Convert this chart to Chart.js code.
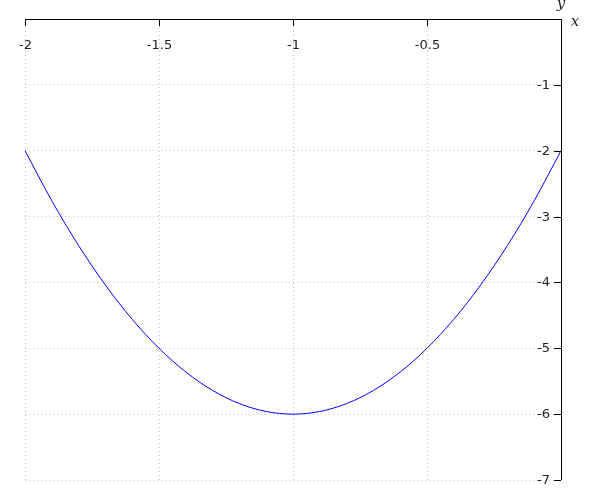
<!DOCTYPE html>
<html>
<head>
<meta charset="utf-8">
<script src="https://cdn.jsdelivr.net/npm/chart.js@4"></script>
<style>
  html, body { margin: 0; padding: 0; background: #fff; }
  #wrap { width: 600px; height: 500px; }
</style>
</head>
<body>
<div id="wrap"><canvas id="grafico"></canvas></div>
<script>
const xValores = [-2, -1.9, -1.8, -1.7, -1.6, -1.5, -1.4, -1.3, -1.2, -1.1, -1,
                  -0.9, -0.8, -0.7, -0.6, -0.5, -0.4, -0.3, -0.2, -0.1, 0];
const yValores = [-2, -2.76, -3.44, -4.04, -4.56, -5, -5.36, -5.64, -5.84, -5.96, -6,
                  -5.96, -5.84, -5.64, -5.36, -5, -4.56, -4.04, -3.44, -2.76, -2];
const xTicks = [-2, -1.5, -1, -0.5];
const yTicks = [-1, -2, -3, -4, -5, -6, -7];

const pontos = xValores.map((x, i) => ({ x: x, y: yValores[i] }));

// eixos no topo e a direita, com marcas para dentro
const eixos = {
    id: "eixos",
    afterDraw(chart) {
        const ctx = chart.ctx;
        const sx = chart.scales.x;
        const sy = chart.scales.y;
        const topo = sy.getPixelForValue(0);
        const dir = sx.getPixelForValue(0);
        const esq = sx.getPixelForValue(-2);
        const base = sy.getPixelForValue(-7);

        ctx.save();
        ctx.strokeStyle = "#000";
        ctx.lineWidth = 1;
        ctx.beginPath();
        ctx.moveTo(esq, topo + 0.5);
        ctx.lineTo(dir + 0.5, topo + 0.5);
        ctx.lineTo(dir + 0.5, base);
        ctx.stroke();

        ctx.font = "13px 'DejaVu Sans'";
        ctx.fillStyle = "#222";

        ctx.textAlign = "center";
        ctx.textBaseline = "middle";
        xTicks.forEach(v => {
            const px = Math.round(sx.getPixelForValue(v)) + 0.5;
            ctx.beginPath();
            ctx.moveTo(px, topo);
            ctx.lineTo(px, topo + 7);
            ctx.stroke();
            ctx.fillText(String(v), px, topo + 27);
        });

        ctx.textAlign = "right";
        yTicks.forEach(v => {
            const py = Math.round(sy.getPixelForValue(v)) + 0.5;
            ctx.beginPath();
            ctx.moveTo(dir - 7, py);
            ctx.lineTo(dir, py);
            ctx.stroke();
            ctx.fillText(String(v), dir - 11, py);
        });

        ctx.font = "italic 15px 'DejaVu Serif'";
        ctx.textAlign = "center";
        ctx.fillText("x", dir + 14, topo + 3);
        ctx.fillText("y", dir, topo - 15);
        ctx.restore();
    }
};

new Chart(document.getElementById("grafico"), {
    type: "line",
    data: {
        datasets: [{
            data: pontos,
            borderColor: "#0000ff",
            borderWidth: 1,
            pointRadius: 0,
            fill: false,
            cubicInterpolationMode: "monotone"
        }]
    },
    options: {
        responsive: true,
        maintainAspectRatio: false,
        animation: false,
        layout: {
            padding: { left: 25, right: 39, top: 19, bottom: 20 }
        },
        plugins: {
            legend: { display: false },
            tooltip: { enabled: false }
        },
        scales: {
            x: {
                type: "linear",
                position: "top",
                min: -2,
                max: 0,
                ticks: { display: false, stepSize: 0.5 },
                border: { display: false, dash: [1, 3] },
                grid: {
                    drawTicks: false,
                    color: "#c4c4c4",
                    lineWidth: 1
                }
            },
            y: {
                position: "right",
                min: -7,
                max: 0,
                ticks: { display: false, stepSize: 1 },
                border: { display: false, dash: [1, 3] },
                grid: {
                    drawTicks: false,
                    color: "#c4c4c4",
                    lineWidth: 1
                }
            }
        }
    },
    plugins: [eixos]
});
</script>
</body>
</html>
